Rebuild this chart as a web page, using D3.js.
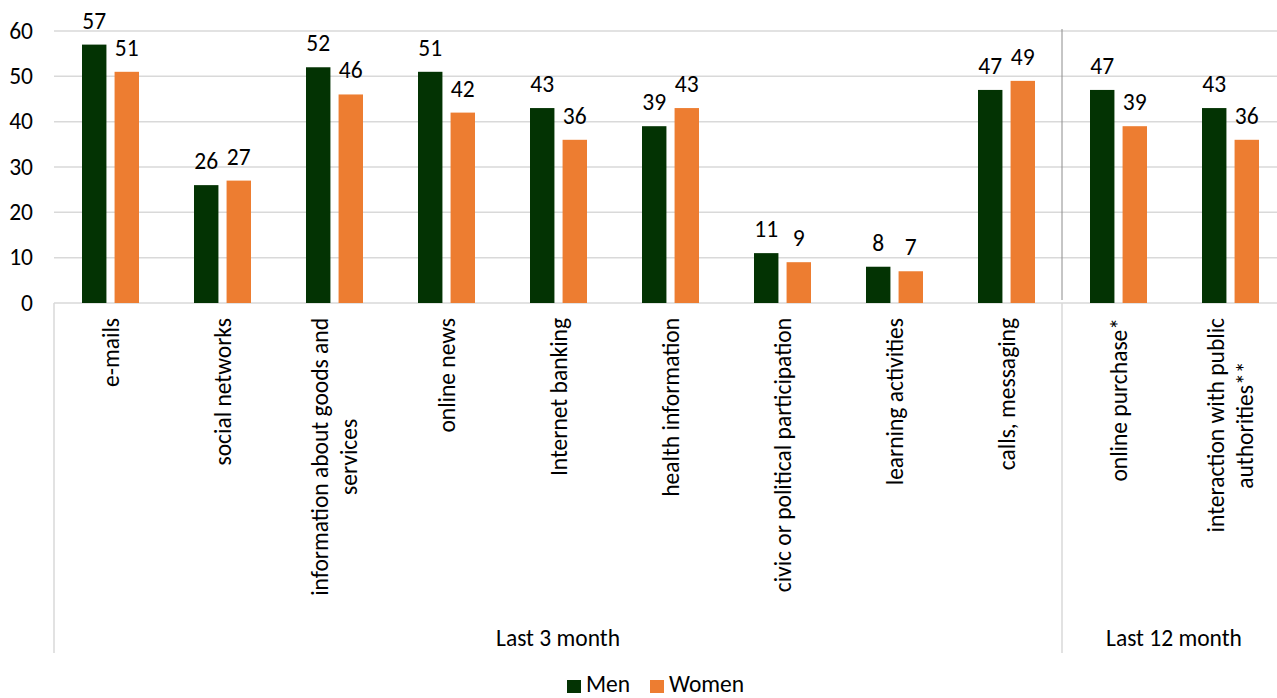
<!DOCTYPE html>
<html><head><meta charset="utf-8">
<script src="https://cdn.jsdelivr.net/npm/d3@7"></script>
<style>body{margin:0;background:#fff}svg{display:block}text{font-family:Carlito,Lato,"Open Sans",sans-serif;fill:#000}</style>
</head><body><svg id="c" width="1277" height="698"></svg>
<script>
const categories = [
  ["e-mails"], ["social networks"], ["information about goods and", "services"], ["online news"],
  ["Internet banking"], ["health information"], ["civic or political participation"],
  ["learning activities"], ["calls, messaging"], ["online purchase*"],
  ["interaction with public", "authorities**"]
];
const men   = [57, 26, 52, 51, 43, 39, 11, 8, 47, 47, 43];
const women = [51, 27, 46, 42, 36, 43, 9, 7, 49, 39, 36];
const series = ["Men", "Women"];
const colors = ["#033303", "#ED7D31"];
const groups = [{label: "Last 3 month", from: 0, to: 8}, {label: "Last 12 month", from: 9, to: 10}];
const yTicks = [0, 10, 20, 30, 40, 50, 60];

const FS = 23.5;
const svg = d3.select("#c");
const ids = categories.map((c, i) => i);
const x0 = d3.scaleBand().domain(ids).range([54, 1286]).paddingInner(0).paddingOuter(0);
const x1 = d3.scaleBand().domain(series).range([28, 85]).paddingInner(0.25).paddingOuter(0);
const y = d3.scaleLinear().domain([0, 60]).range([303, 31]);

// gridlines
svg.append("g").selectAll("line").data(yTicks).join("line")
  .attr("x1", 54).attr("x2", 1286).attr("y1", d => y(d)).attr("y2", d => y(d))
  .attr("stroke", "#d9d9d9").attr("stroke-width", 1.5);

// y tick labels
svg.append("g").selectAll("text").data(yTicks).join("text")
  .attr("x", 33).attr("y", d => y(d)).attr("dy", "0.33em").attr("text-anchor", "end")
  .style("font-size", FS + "px").text(d => d);

// group separators
const sepX = [x0(groups[0].from), x0(groups[1].from), x0(groups[1].to) + x0.bandwidth()];
svg.append("g").selectAll("line").data(sepX).join("line")
  .attr("x1", d => d).attr("x2", d => d).attr("y1", 303).attr("y2", 653)
  .attr("stroke", "#d9d9d9").attr("stroke-width", 1.5);
svg.append("line").attr("x1", x0(groups[1].from)).attr("x2", x0(groups[1].from))
  .attr("y1", 29).attr("y2", 300).attr("stroke", "#8c8c8c").attr("stroke-width", 1);

// bars
const data = ids.map(i => ({i, vals: [men[i], women[i]]}));
const cg = svg.append("g").selectAll("g").data(data).join("g")
  .attr("transform", d => `translate(${x0(d.i)},0)`);
cg.selectAll("rect").data(d => d.vals.map((v, k) => ({k, v}))).join("rect")
  .attr("x", d => x1(series[d.k])).attr("width", x1.bandwidth())
  .attr("y", d => y(d.v)).attr("height", d => y(0) - y(d.v))
  .attr("fill", d => colors[d.k]);
cg.selectAll("text").data(d => d.vals.map((v, k) => ({k, v}))).join("text")
  .attr("x", d => x1(series[d.k]) + x1.bandwidth() / 2).attr("y", d => y(d.v) - 16)
  .attr("text-anchor", "middle").style("font-size", FS + "px").text(d => d.v);

// category labels (rotated)
const lh = 28.5;
ids.forEach(i => {
  const lines = categories[i];
  const cx = x0(i) + x0.bandwidth() / 2;
  const g = svg.append("g");
  const ts = lines.map((t, k) => g.append("text").style("font-size", FS + "px").text(t));
  const maxLen = d3.max(ts, t => t.node().getComputedTextLength());
  const n = lines.length;
  ts.forEach((t, k) => {
    const bx = cx + (k - (n - 1) / 2) * lh + 8.5;
    const by = 318 + maxLen / 2;
    t.attr("text-anchor", "middle").attr("transform", `translate(${bx},${by}) rotate(-90)`);
  });
});

// group labels
svg.append("g").selectAll("text").data(groups).join("text")
  .attr("x", d => (x0(d.from) + x0(d.to) + x0.bandwidth()) / 2).attr("y", 646)
  .attr("text-anchor", "middle").style("font-size", FS + "px").text(d => d.label);

// legend
const lg = svg.append("g");
const legX = [567, 650];
series.forEach((s, k) => {
  lg.append("rect").attr("x", legX[k]).attr("y", 680).attr("width", 14).attr("height", 13).attr("fill", colors[k]);
  lg.append("text").attr("x", legX[k] + 19).attr("y", 692).style("font-size", FS + "px").text(s);
});
</script></body></html>
